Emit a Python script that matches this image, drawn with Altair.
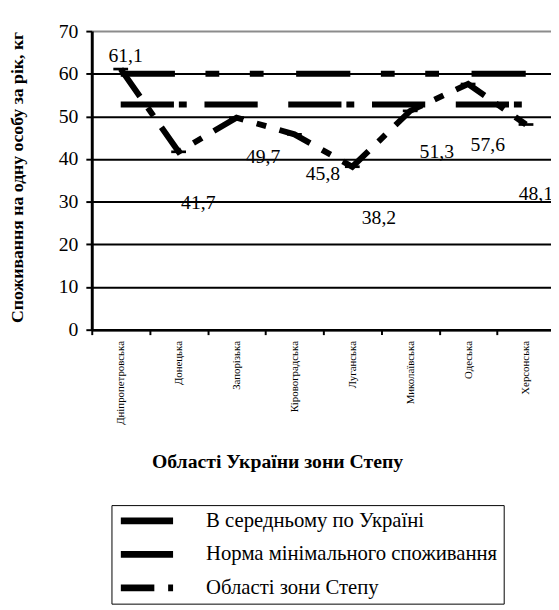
import altair as alt
import pandas as pd

categories = ["Дніпропетровська", "Донецька", "Запорізька", "Кіровоградська",
              "Луганська", "Миколаївська", "Одеська", "Херсонська"]
region_values = [61.1, 41.7, 49.7, 45.8, 38.2, 51.3, 57.6, 48.1]
ukraine_avg = 52.8
min_norm = 60.0
series_names = ["В середньому по Україні", "Норма мінімального споживання", "Області зони Степу"]
y_ticks = [0, 10, 20, 30, 40, 50, 60, 70]
label_texts = ["61,1", "41,7", "49,7", "45,8", "38,2", "51,3", "57,6", "48,1"]

# label placement offsets (pixels) - styling of the manually placed data labels
label_dx = [5, 20, 27, 29, 27, 27, 20, 10]
label_dy = [-13, 52, 40, 40, 52, 42, 62, 71]

FONT = "Liberation Serif"

rows = []
for c in categories:
    rows.append({"category": c, "series": series_names[0], "value": ukraine_avg})
for c in categories:
    rows.append({"category": c, "series": series_names[1], "value": min_norm})
for c, v, t in zip(categories, region_values, label_texts):
    rows.append({"category": c, "series": series_names[2], "value": v, "label": t})
df = pd.DataFrame(rows)

x_enc = alt.X(
    "category:N",
    sort=categories,
    bandPosition=0.5,
    scale=alt.Scale(type="band", paddingInner=0, paddingOuter=0, range=[0, 470]),
    axis=alt.Axis(
        title="Області України зони Степу",
        titleFont=FONT, titleFontSize=20, titleFontWeight="bold", titleColor="black",
        titleX=188, titleY=134, titleAlign="center", titleBaseline="middle",
        labelFont=FONT, labelFontSize=11, labelColor="black",
        labelAngle=270, labelAlign="right", labelBaseline="middle", labelPadding=6,
        tickBand="extent", tickSize=5, tickColor="black", tickWidth=2,
        domainColor="black", domainWidth=2.5, grid=False,
    ),
)

y_enc = alt.Y(
    "value:Q",
    scale=alt.Scale(domain=[0, 70], nice=False, zero=True),
    axis=alt.Axis(
        values=y_ticks,
        title="Споживання на одну особу за рік, кг",
        titleFont=FONT, titleFontSize=18, titleFontWeight="bold", titleColor="black",
        titleX=-75, titleY=148, titleAngle=270, titleAlign="center", titleBaseline="middle",
        labelFont=FONT, labelFontSize=20, labelColor="black", labelPadding=8,
        tickSize=6, tickColor="black", tickWidth=2,
        domainColor="black", domainWidth=3,
        grid=True, gridWidth=2,
        gridColor={"condition": {"test": "datum.value >= 70", "value": "#8c8c8c"}, "value": "black"},
    ),
)

lines = alt.Chart(df).mark_line(color="black", strokeWidth=6).encode(
    x=x_enc,
    y=y_enc,
    strokeDash=alt.StrokeDash(
        "series:N",
        scale=alt.Scale(
            domain=series_names,
            range=[[54, 5, 8, 18, 54, 31], [55, 31, 14, 31, 14, 33], [34, 14, 10, 14]],
        ),
        legend=alt.Legend(
            orient="none", legendX=20, legendY=481, title=None,
            strokeColor="black", fillColor="white", padding=6,
            symbolType="stroke", symbolSize=2809, symbolStrokeWidth=7,
            symbolStrokeColor="black", clipHeight=20,
            labelFont=FONT, labelFontSize=21, labelColor="black",
            labelOffset=30, labelLimit=0, rowPadding=13,
            labelExpr="datum.label + '\u00a0\u00a0\u00a0\u00a0'",
        ),
    ),
)

markers = alt.Chart(df).transform_filter(
    alt.datum.series == series_names[2]
).mark_point(
    shape="M-1,-0.18L1,-0.18L1,0.18L-1,0.18Z", size=225, filled=True, color="black", opacity=1
).encode(x=x_enc, y=y_enc)

label_layers = []
for c, dx, dy in zip(categories, label_dx, label_dy):
    label_layers.append(
        alt.Chart(df).transform_filter(
            (alt.datum.series == series_names[2]) & (alt.datum.category == c)
        ).mark_text(
            font=FONT, fontSize=20, color="black", align="center", baseline="middle", dx=dx, dy=dy
        ).encode(x=x_enc, y=y_enc, text="label:N")
    )

chart = alt.layer(lines, markers, *label_layers).properties(
    width=466,
    height=303,
    autosize=alt.AutoSizeParams(type="none"),
    padding={"left": 85, "top": 19, "right": 0, "bottom": 280},
    background="white",
).configure_view(stroke=None)

chart.save("out.html", embed_options={"renderer": "svg", "actions": False})
